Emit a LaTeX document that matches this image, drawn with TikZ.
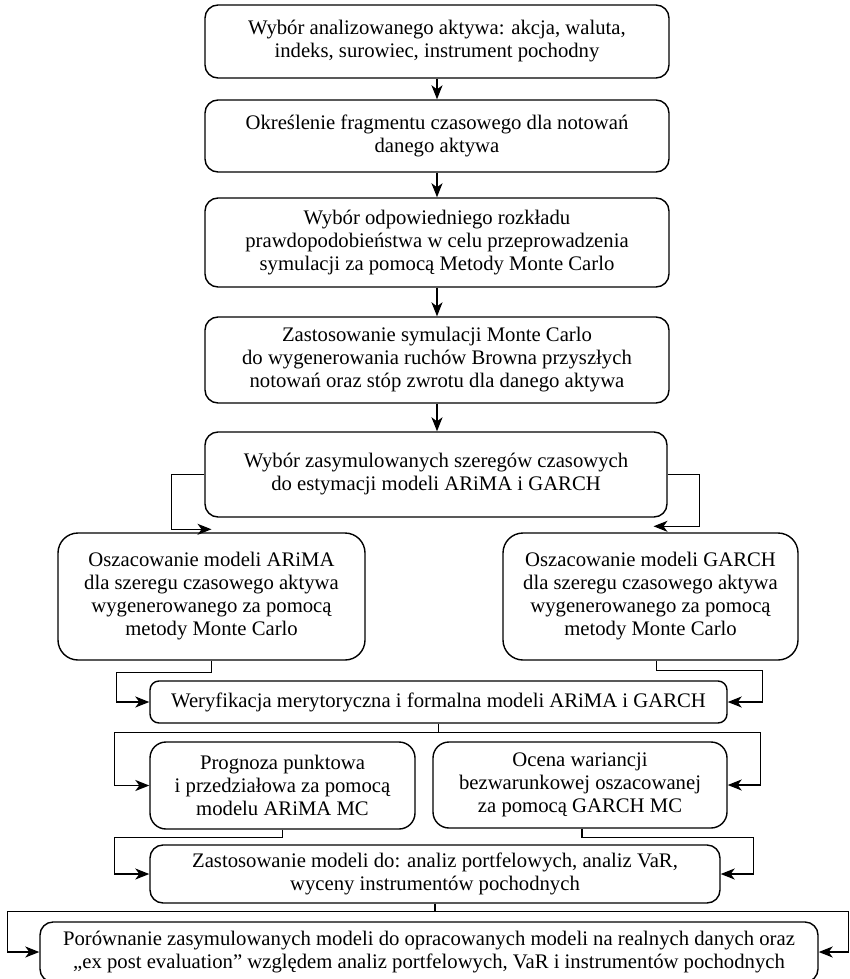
\documentclass[tikz,border=0pt]{standalone}
\usepackage{fontspec}
\setmainfont{Liberation Serif}
\usetikzlibrary{arrows.meta,calc}
\begin{document}
\begin{tikzpicture}[x=1pt,y=-1pt,
  box/.style={draw, line width=1.4pt, rounded corners=13pt, align=center, inner sep=0pt,
    font=\fontsize{20.7}{23}\selectfont},
  bigbox/.style={box, rounded corners=20pt},
  arr/.style={line width=1.4pt, -{Stealth[length=14pt,width=11pt,inset=4pt]}},
  ln/.style={line width=1.4pt}]
\useasboundingbox (0,0) rectangle (849,979);

\node[box, minimum width=464pt, minimum height=73pt] (b1) at (437,41.5)
  {Wybór analizowanego aktywa: akcja, waluta,\\ indeks, surowiec, instrument pochodny};
\node[box, minimum width=464pt, minimum height=72pt] (b2) at (437,136)
  {Określenie fragmentu czasowego dla notowań\\ danego aktywa};
\node[box, minimum width=464pt, minimum height=89pt] (b3) at (437,242.5)
  {Wybór odpowiedniego rozkładu\\ prawdopodobieństwa w celu przeprowadzenia\\ symulacji za pomocą Metody Monte Carlo};
\node[box, minimum width=464pt, minimum height=86pt] (b4) at (437,360)
  {Zastosowanie symulacji Monte Carlo\\ do wygenerowania ruchów Browna przyszłych\\ notowań oraz stóp zwrotu dla danego aktywa};
\node[box, minimum width=462pt, minimum height=85pt] (b5) at (436,474.5)
  {Wybór zasymulowanych szeregów czasowych\\ do estymacji modeli ARiMA i GARCH};
\node[bigbox, minimum width=307pt, minimum height=127pt] (b6) at (211.5,596.5)
  {Oszacowanie modeli ARiMA\\ dla szeregu czasowego aktywa\\ wygenerowanego za pomocą\\ metody Monte Carlo};
\node[bigbox, minimum width=295pt, minimum height=127pt] (b7) at (650.5,596.5)
  {Oszacowanie modeli GARCH\\ dla szeregu czasowego aktywa\\ wygenerowanego za pomocą\\ metody Monte Carlo};
\node[box, rounded corners=9pt, minimum width=577pt, minimum height=42pt] (b8) at (438.5,702)
  {Weryfikacja merytoryczna i formalna modeli ARiMA i GARCH};
\node[box, rounded corners=16pt, minimum width=265pt, minimum height=87pt] (b9) at (282.5,785.5)
  {Prognoza punktowa\\ i przedziałowa za pomocą\\ modelu ARiMA MC};
\node[box, rounded corners=16pt, minimum width=294pt, minimum height=86pt] (b10) at (580,785)
  {Ocena wariancji\\ bezwarunkowej oszacowanej\\ za pomocą GARCH MC};
\node[box, minimum width=570pt, minimum height=58pt] (b11) at (435,874)
  {Zastosowanie modeli do: analiz portfelowych, analiz VaR,\\ wyceny instrumentów pochodnych};
\node[box, minimum width=778pt, minimum height=60pt] (b12) at (429,952)
  {Porównanie zasymulowanych modeli do opracowanych modeli na realnych danych oraz\\ „ex post evaluation” względem analiz portfelowych, VaR i instrumentów pochodnych};

\draw[arr] (b1.south) -- (b2.north);
\draw[arr] (b2.south) -- (b3.north);
\draw[arr] (b3.south) -- (b4.north);
\draw[arr] (b4.south) -- ([xshift=1pt]b5.north);

\draw[arr] (b5.west) -| ([xshift=-40pt,yshift=3pt]b6.north) -- ([yshift=3pt]b6.north);
\draw[arr] (b5.east) -| ([xshift=49pt,yshift=6pt]b7.north) -- ([yshift=6pt,xshift=3pt]b7.north);

\draw[arr] (b6.south) -- ++(0,12) -| ([xshift=-33pt]b8.west) -- (b8.west);
\draw[arr] ([xshift=6pt]b7.south) -- ++(0,10) -| ([xshift=35pt]b8.east) -- (b8.east);

\draw[ln] (b8.south) -- ++(0,9);
\draw[arr] ($(b8.south)+(0,9)$) -| ([xshift=-35pt]b9.west) -- (b9.west);
\draw[arr] ($(b8.south)+(0,9)$) -| ([xshift=33pt]b10.east) -- (b10.east);

\draw[arr] (b9.south) -- ++(0,8) -| ([xshift=-35pt]b11.west) -- (b11.west);
\draw[arr] ([xshift=2pt]b10.south) -- ++(0,9) -| ([xshift=33pt]b11.east) -- (b11.east);

\draw[ln] (b11.south) -- ++(0,8);
\draw[arr] ($(b11.south)+(0,8)$) -| ([xshift=-32pt]b12.west) -- (b12.west);
\draw[arr] ($(b11.south)+(0,8)$) -| ([xshift=30pt]b12.east) -- (b12.east);
\end{tikzpicture}
\end{document}
